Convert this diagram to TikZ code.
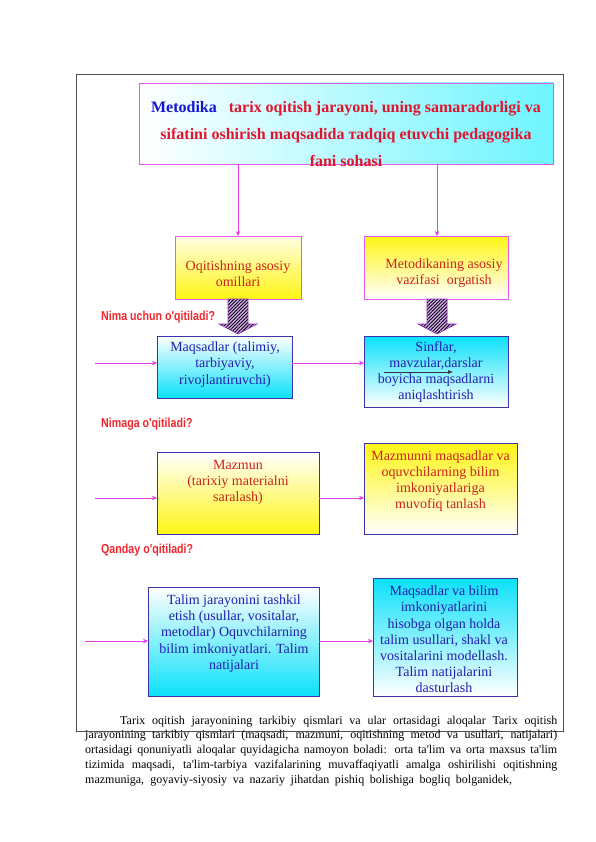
\documentclass[tikz,border=0pt]{standalone}
\usepackage{fontspec}
\setmainfont{Liberation Serif}
\newfontfamily\labfont{Liberation Sans}
\usetikzlibrary{arrows.meta,patterns.meta,calc}
\definecolor{mag}{RGB}{230,60,230}
\definecolor{pinkedge}{RGB}{225,90,235}
\definecolor{blueedge}{RGB}{60,50,170}
\definecolor{tblue}{RGB}{20,20,210}
\definecolor{tred}{RGB}{225,20,45}
\definecolor{yred}{RGB}{205,35,30}
\definecolor{btext}{RGB}{35,30,175}
\definecolor{labred}{RGB}{240,40,45}
\definecolor{cyanA}{RGB}{10,225,250}
\definecolor{cyanT}{RGB}{110,245,255}
\definecolor{yelA}{RGB}{255,245,20}
\definecolor{framec}{RGB}{80,80,80}
\definecolor{harrowfill}{RGB}{215,175,240}
\definecolor{harrowedge}{RGB}{150,40,200}
\newcommand\labtext[1]{\scalebox{0.82}[1]{#1}}
\begin{document}
\begin{tikzpicture}[x=1pt,y=-1pt,
  box/.style={draw, line width=0.6pt, anchor=north west, inner sep=0pt, outer sep=0pt},
  ybox/.style={box, draw=pinkedge},
  bbox/.style={box, draw=blueedge},
  tx/.style={align=center, inner sep=0pt, font=\fontsize{14}{16.2}\selectfont},
  ytx/.style={tx, text=yred},
  btx/.style={tx, text=btext},
  lab/.style={anchor=base west, inner sep=0pt, text=labred, font=\labfont\bfseries\fontsize{13}{15}\selectfont},
  arr/.style={draw=mag, line width=0.6pt, -{Stealth[length=5pt,width=4.5pt]}},
  harrow/.style={preaction={fill=harrowfill}, pattern={Lines[angle=45,distance=2.4pt,line width=0.9pt]}, pattern color=black, draw=harrowedge, line width=0.6pt},
  ptx/.style={anchor=base west, inner sep=0pt, font=\fontsize{12}{14}\selectfont}
]
\useasboundingbox (0,0) rectangle (596,842);
\fill[white] (0,0) rectangle (596,842);

% outer frame
\node[box, draw=framec, line width=0.8pt, minimum width=487pt, minimum height=657pt] (frame) at (76,74) {};

% title
\node[box, draw=pinkedge, left color=white, right color=cyanT, minimum width=414pt, minimum height=81pt] (title) at (139,83) {};
\node[align=center, inner sep=0pt, text=tred, font=\bfseries\fontsize{16}{27}\selectfont] (titletext) at (346,134.5)
 {{\color{tblue}Metodika}\hspace{12pt}tarix oqitish jarayoni, uning samaradorligi va\\
  sifatini oshirish maqsadida тadqiq etuvchi pedagogika\\
  fani sohasi};

% row 1
\node[ybox, top color=yelA!12!white, bottom color=yelA, minimum width=126pt, minimum height=63pt] (omil) at (175,236) {};
\node[ytx] (omiltext) at (238,273.5) {Oqitishning asosiy\\omillari};
\node[ybox, top color=yelA, bottom color=white, minimum width=144pt, minimum height=63pt] (vaz) at (364,236) {};
\node[ytx] (vaztext) at (444,273.5) {Metodikaning asosiy\\vazifasi\ \ orgatish};

\draw[arr] (omil.north |- title.south) -- (omil.north);
\draw[arr] ([xshift=1pt]vaz.north |- title.south) -- ([xshift=1pt]vaz.north);

% row 2
\node[bbox, top color=white, bottom color=cyanA, minimum width=135pt, minimum height=62pt] (maq) at (157,336) {};
\node[btx] (maqtext) at (225,364.5) {Maqsadlar (talimiy,\\tarbiyaviy,\\rivojlantiruvchi)};
\node[bbox, top color=cyanA, bottom color=white, minimum width=144pt, minimum height=71pt] (sin) at (364,336) {};
\node[btx] (sintext) at (436,372) {Sinflar,\\mavzular,darslar\\boyicha maqsadlarni\\aniqlashtirish};

% hatched arrows
\path[harrow] ([xshift=-10pt]omil.south) -- ([xshift=-10pt,yshift=-25pt]omil.south)
  -- ([xshift=-19pt,yshift=-25pt]omil.south) -- ($(omil.south |- maq.north)+(0,-2)$)
  -- ([xshift=19pt,yshift=-25pt]omil.south) -- ([xshift=10pt,yshift=-25pt]omil.south)
  -- ([xshift=10pt]omil.south) -- cycle;
\path[harrow] ([xshift=-9pt]vaz.south) -- ([xshift=-9pt,yshift=-25pt]vaz.south)
  -- ([xshift=-18pt,yshift=-25pt]vaz.south) -- ($([xshift=1pt]vaz.south |- sin.north)+(0,-2)$)
  -- ([xshift=20pt,yshift=-25pt]vaz.south) -- ([xshift=11pt,yshift=-25pt]vaz.south)
  -- ([xshift=11pt]vaz.south) -- cycle;

\node[lab] (q1) at (101,320) {\labtext{Nima uchun o'qitiladi?}};
\coordinate (in1) at (95,363);
\draw[arr] (in1) -- (in1 -| maq.west);
\draw[arr] (in1 -| maq.east) -- (in1 -| sin.west);
\coordinate (s1) at (384,372);
\coordinate (s2) at (453,372);
\draw[line width=0.5pt, draw=black!80, -{Latex[length=5pt,width=4pt]}] (s1) -- (s2);

% row 3
\node[lab] (q2) at (101,427) {\labtext{Nimaga o'qitiladi?}};
\node[bbox, top color=white, bottom color=yelA, minimum width=162pt, minimum height=82pt] (maz) at (157,452) {};
\node[ytx] (maztext) at (238,482.5) {Mazmun\\(tarixiy materialni\\saralash)};
\node[bbox, top color=yelA, bottom color=white, minimum width=153pt, minimum height=91pt] (mmq) at (364,443) {};
\node[ytx] (mmqtext) at (440.5,481) {Mazmunni maqsadlar va\\oquvchilarning bilim\\imkoniyatlariga\\muvofiq tanlash};
\coordinate (in2) at (95,498);
\draw[arr] (in2) -- (in2 -| maz.west);
\draw[arr] (in2 -| maz.east) -- (in2 -| mmq.west);

% row 4
\node[lab] (q3) at (101,553) {\labtext{Qanday o'qitiladi?}};
\node[bbox, top color=white, bottom color=cyanA, minimum width=171pt, minimum height=109pt] (tal) at (148,587) {};
\node[btx] (taltext) at (234,633.5) {Talim jarayonini tashkil\\etish (usullar, vositalar,\\metodlar) Oquvchilarning\\bilim imkoniyatlari. Talim\\natijalari};
\node[bbox, top color=cyanA, bottom color=white, minimum width=144pt, minimum height=118pt] (mbi) at (373,578) {};
\node[btx] (mbitext) at (444,639.5) {Maqsadlar va bilim\\imkoniyatlarini\\hisobga olgan holda\\talim usullari, shakl va\\vositalarini modellash.\\Talim natijalarini\\dasturlash};
\coordinate (in3) at (85,641);
\draw[arr] (in3) -- (in3 -| tal.west);
\draw[arr] (in3 -| tal.east) -- (in3 -| mbi.west);

% paragraph
\node[ptx] (p1) at (120,724) {\makebox[437pt][s]{Tarix oqitish jarayonining tarkibiy qismlari va ular ortasidagi aloqalar Tarix oqitish}};
\node[ptx] (p2) at (85,738.5) {\makebox[472pt][s]{jarayonining tarkibiy qismlari (maqsadi, mazmuni, oqitishning metod va usullari, natijalari)}};
\node[ptx] (p3) at (85,753.5) {\makebox[472pt][s]{ortasidagi qonuniyatli aloqalar quyidagicha namoyon boladi: orta ta\textquotesingle lim va orta maxsus ta\textquotesingle lim}};
\node[ptx] (p4) at (85,768.5) {\makebox[472pt][s]{tizimida maqsadi, ta\textquotesingle lim-tarbiya vazifalarining muvaffaqiyatli amalga oshirilishi oqitishning}};
\node[ptx] (p5) at (85,783.5) {\makebox[427pt][s]{mazmuniga, goyaviy-siyosiy va nazariy jihatdan pishiq bolishiga bogliq bolganidek,}};
\end{tikzpicture}
\end{document}
